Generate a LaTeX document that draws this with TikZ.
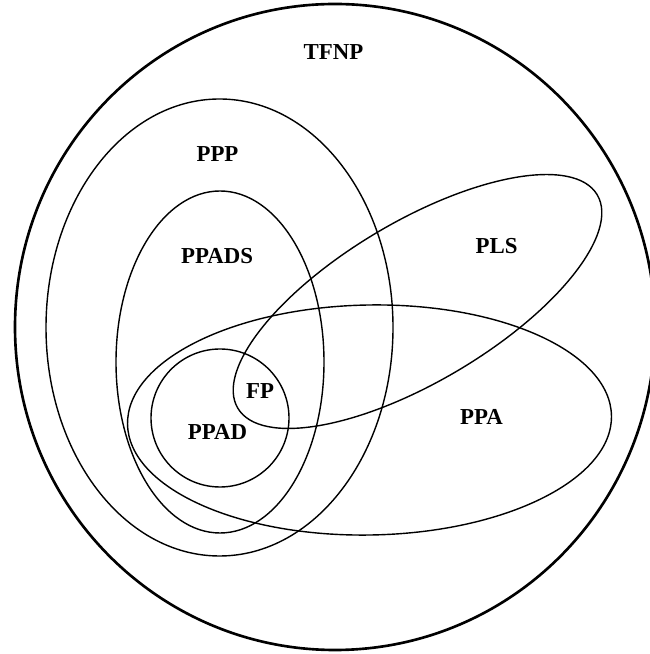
\documentclass[tikz,border=0pt]{standalone}
\usepackage{fontspec}
\setmainfont{Liberation Serif}
\begin{document}
\begin{tikzpicture}[set/.style={line width=0.8pt}, cls/.style={font=\bfseries\fontsize{13}{15}\selectfont}]
        \useasboundingbox (0,0) rectangle (13,13.08);
        \clip (0,0) rectangle (13,13.08);
        % the classes
        \draw[line width=1.5pt] (6.70,6.54) ellipse (6.40 and 6.46);
        \draw[set] (4.39,6.53) ellipse (3.47 and 4.57);
        \draw[set] (4.40,5.84) ellipse (2.08 and 3.42);
        \draw[set] (4.40,4.72) circle (1.38);
        \draw[set, rotate around={30.7:(8.35,7.05)}] (8.35,7.05) ellipse (4.18 and 1.60);
        \draw[set, rotate around={1:(7.39,4.68)}] (7.39,4.68) ellipse (4.84 and 2.30);
        % names
        \node[cls] (tfnp) at (6.67,12.04) {TFNP};
        \node[cls] (ppp) at (4.35,9.99) {PPP};
        \node[cls] (ppads) at (4.34,7.96) {PPADS};
        \node[cls] (pls) at (9.93,8.15) {PLS};
        \node[cls] (fp) at (5.20,5.26) {FP};
        \node[cls] (ppad) at (4.35,4.45) {PPAD};
        \node[cls] (ppa) at (9.63,4.75) {PPA};
    \end{tikzpicture}
\end{document}
